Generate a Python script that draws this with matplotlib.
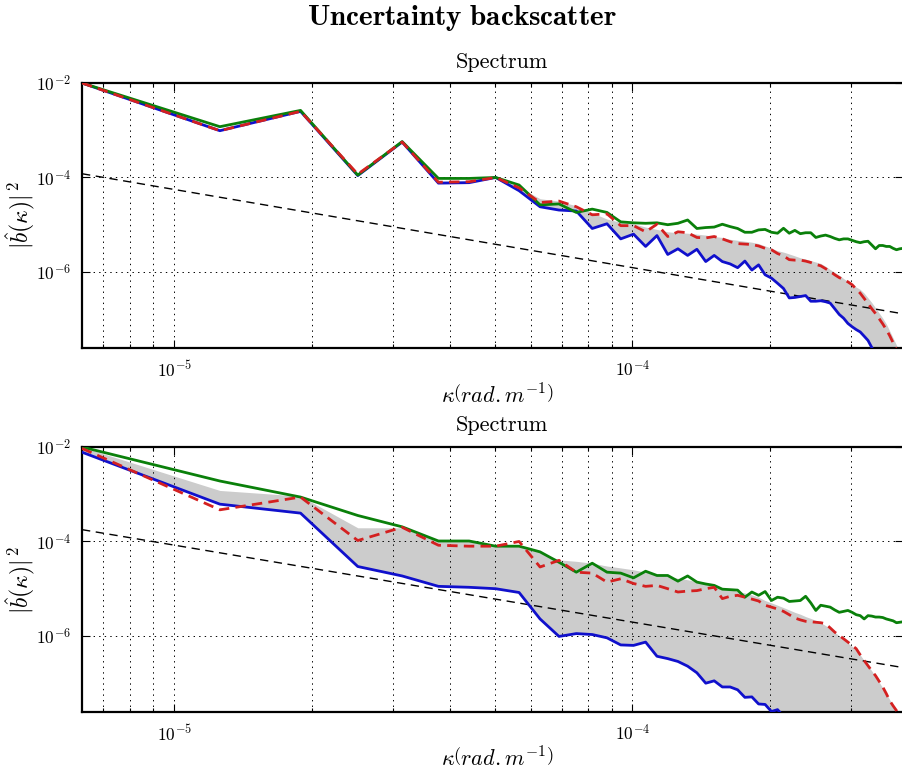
import numpy as np
import matplotlib
matplotlib.use("Agg")
import matplotlib.pyplot as plt
from matplotlib.ticker import LogLocator, FixedLocator, NullFormatter

plt.rcParams['mathtext.fontset'] = 'cm'
plt.rcParams['font.family'] = ['cmr10', 'DejaVu Serif']
plt.rcParams['axes.unicode_minus'] = False
plt.rcParams['lines.scale_dashes'] = False

# wavenumber grid (mode index n, fundamental 2*pi / 1000 km)
k0 = 2 * np.pi / 1.0e6
n_modes = np.arange(1, 63)
kappa = k0 * n_modes

# ---- top panel : log10 of |b(k)|^2 ----
top_blue = [-2.00, -3.01, -2.60, -3.96, -3.25, -4.12, -4.11, -4.00, -4.28, -4.62,
            -4.69, -4.71, -5.08, -4.98, -5.30, -5.20, -5.46, -5.23, -5.63, -5.51,
            -5.65, -5.52, -5.78, -5.65, -5.78, -5.83, -5.91, -5.77, -5.96, -5.85,
            -6.06, -6.13, -6.24, -6.35, -6.55, -6.54, -6.52, -6.50, -6.62, -6.62,
            -6.61, -6.63, -6.66, -6.78, -6.90, -6.98, -7.09, -7.16, -7.22, -7.27,
            -7.36, -7.45, -7.60, -7.75, -7.90, -8.05, -8.20, -8.35, -8.50, -8.65,
            -8.80, -8.95]
top_green = [-2.00, -2.925, -2.58, -3.95, -3.24, -4.02, -4.02, -4.00, -4.16, -4.58,
             -4.56, -4.74, -4.67, -4.74, -4.94, -4.96, -4.97, -4.96, -5.00, -4.97,
             -4.90, -5.08, -5.06, -5.05, -4.99, -5.04, -5.08, -5.16, -5.16, -5.11,
             -5.10, -5.16, -5.18, -5.075, -5.18, -5.12, -5.19, -5.17, -5.17, -5.27,
             -5.24, -5.22, -5.25, -5.29, -5.32, -5.30, -5.30, -5.33, -5.36, -5.38,
             -5.36, -5.35, -5.43, -5.51, -5.44, -5.44, -5.46, -5.46, -5.50, -5.53,
             -5.51, -5.50]
top_red = [-2.00, -3.01, -2.60, -3.93, -3.25, -4.10, -4.09, -4.00, -4.22, -4.53,
           -4.50, -4.62, -4.79, -4.77, -5.02, -5.02, -5.15, -4.99, -5.25, -5.15,
           -5.17, -5.27, -5.28, -5.25, -5.30, -5.36, -5.40, -5.41, -5.42, -5.45,
           -5.50, -5.53, -5.61, -5.66, -5.74, -5.75, -5.75, -5.77, -5.80, -5.84,
           -5.87, -5.93, -5.99, -6.06, -6.12, -6.16, -6.21, -6.27, -6.36, -6.45,
           -6.56, -6.67, -6.78, -6.88, -6.99, -7.10, -7.22, -7.35, -7.50, -7.65,
           -7.80, -7.95]
top_band_hi = [-2.00, -2.98, -2.58, -3.93, -3.24, -4.08, -4.07, -4.00, -4.20, -4.45,
               -4.50, -4.60, -4.75, -4.88, -4.95, -4.98, -5.05, -5.10, -5.15, -5.17,
               -5.18, -5.20, -5.22, -5.25, -5.27, -5.31, -5.33, -5.35, -5.37, -5.40,
               -5.45, -5.50, -5.55, -5.58, -5.62, -5.66, -5.70, -5.73, -5.76, -5.79,
               -5.82, -5.88, -5.95, -6.01, -6.07, -6.14, -6.20, -6.26, -6.32, -6.37,
               -6.45, -6.55, -6.65, -6.76, -6.87, -6.98, -7.10, -7.25, -7.40, -7.55,
               -7.70, -7.85]
top_ref = [1.2e-4, 1.3e-7]

# ---- bottom panel : log10 of |b(k)|^2 ----
bot_blue = [-2.11, -3.21, -3.40, -4.53, -4.73, -4.95, -4.97, -5.00, -5.08, -5.64,
            -6.01, -5.95, -5.97, -6.04, -6.19, -6.20, -6.13, -6.43, -6.48, -6.54,
            -6.64, -6.78, -7.00, -6.95, -7.08, -7.08, -7.14, -7.30, -7.29, -7.44,
            -7.45, -7.60, -7.56, -7.70, -7.80, -7.90, -8.00, -8.10, -8.20, -8.30,
            -8.40, -8.50, -8.60, -8.70, -8.80, -8.90, -9.00, -9.10, -9.20, -9.30,
            -9.40, -9.50, -9.60, -9.70, -9.80, -9.90, -10.0, -10.1, -10.2, -10.3,
            -10.4, -10.5]
bot_green = [-2.00, -2.72, -3.06, -3.45, -3.69, -3.99, -3.99, -4.10, -4.10, -4.22,
             -4.44, -4.65, -4.46, -4.65, -4.67, -4.77, -4.63, -4.72, -4.72, -4.84,
             -4.73, -4.86, -4.90, -4.93, -5.01, -5.02, -5.03, -5.18, -5.07, -5.14,
             -5.06, -5.25, -5.18, -5.20, -5.27, -5.26, -5.25, -5.16, -5.30, -5.46,
             -5.35, -5.37, -5.39, -5.45, -5.50, -5.48, -5.46, -5.50, -5.55, -5.57,
             -5.64, -5.57, -5.58, -5.60, -5.60, -5.61, -5.64, -5.66, -5.68, -5.72,
             -5.71, -5.70]
bot_red = [-2.03, -3.33, -3.06, -3.98, -3.70, -4.08, -4.10, -4.10, -4.00, -4.54,
           -4.40, -4.65, -4.67, -4.86, -4.79, -4.89, -4.95, -4.93, -5.00, -5.07,
           -5.05, -5.04, -5.00, -4.97, -5.21, -5.16, -5.14, -5.18, -5.22, -5.26,
           -5.35, -5.39, -5.43, -5.48, -5.55, -5.62, -5.66, -5.69, -5.70, -5.71,
           -5.72, -5.74, -5.83, -5.92, -5.99, -6.06, -6.13, -6.20, -6.27, -6.40,
           -6.52, -6.63, -6.74, -6.84, -6.96, -7.08, -7.22, -7.37, -7.48, -7.58,
           -7.75, -7.90]
bot_band_hi = [-2.00, -2.92, -3.04, -3.71, -3.71, -3.99, -3.99, -4.10, -4.08, -4.22,
               -4.39, -4.42, -4.46, -4.52, -4.56, -4.60, -4.65, -4.70, -4.74, -4.78,
               -4.81, -4.85, -4.90, -4.94, -4.98, -5.02, -5.06, -5.09, -5.13, -5.18,
               -5.25, -5.30, -5.35, -5.40, -5.45, -5.50, -5.54, -5.59, -5.63, -5.67,
               -5.72, -5.78, -5.85, -5.92, -6.00, -6.08, -6.15, -6.22, -6.30, -6.40,
               -6.52, -6.63, -6.74, -6.86, -6.98, -7.10, -7.22, -7.35, -7.48, -7.62,
               -7.80, -7.95]
bot_ref = [1.78e-4, 2.14e-7]

ylim = (10 ** -7.61, 1e-2)
blue_c, green_c, red_c = '#1010cc', '#0a800a', '#d42020'

fig = plt.figure(figsize=(9.03, 7.76), dpi=100)
W, H = 903.0, 776.0
ax1 = fig.add_axes([82 / W, 1 - 348 / H, 821 / W, 265 / H])
ax2 = fig.add_axes([82 / W, 1 - 712 / H, 821 / W, 265 / H])


def draw(ax, blue, green, red, band_hi, ref):
    b = 10.0 ** np.array(blue)
    g = 10.0 ** np.array(green)
    r = 10.0 ** np.array(red)
    hi = 10.0 ** np.array(band_hi)
    ax.fill_between(kappa, b, hi, color='#cccccc', lw=0, zorder=1)
    ax.plot([kappa[0], kappa[-1]], ref, color='k', lw=1.0, dashes=(6, 4), zorder=2)
    ax.plot(kappa, b, color=blue_c, lw=2.0, zorder=3)
    ax.plot(kappa, g, color=green_c, lw=2.0, zorder=4)
    ax.plot(kappa, r, color=red_c, lw=2.0, dashes=(7.5, 4.5), zorder=5)
    ax.set_xscale('log')
    ax.set_yscale('log')
    ax.set_xlim(kappa[0], kappa[-1])
    ax.set_ylim(*ylim)
    ax.yaxis.set_major_locator(FixedLocator([1e-6, 1e-4, 1e-2]))
    ax.yaxis.set_minor_locator(FixedLocator([]))
    ax.xaxis.set_major_locator(LogLocator(base=10))
    ax.xaxis.set_minor_locator(LogLocator(base=10, subs=np.arange(2, 10)))
    ax.xaxis.set_minor_formatter(NullFormatter())
    ax.grid(True, which='major', axis='both', color='k', ls=(0, (1, 3)), lw=0.7)
    ax.grid(True, which='minor', axis='x', color='k', ls=(0, (1, 3)), lw=0.7)
    ax.tick_params(which='both', direction='in', top=True, right=True, width=0.8)
    ax.tick_params(which='major', length=6, labelsize=12.5, pad=8)
    ax.tick_params(which='minor', length=3)
    for s in ax.spines.values():
        s.set_linewidth(1.6)
    ax.spines['right'].set_visible(False)


draw(ax1, top_blue, top_green, top_red, top_band_hi, top_ref)
draw(ax2, bot_blue, bot_green, bot_red, bot_band_hi, bot_ref)

fig.text(462 / W, 1 - 18 / H, r'$\mathbf{Uncertainty\ backscatter}$',
         ha='center', va='center', fontsize=21)
for yc in (62, 425):
    fig.text(502 / W, 1 - yc / H, 'Spectrum', ha='center', va='center', fontsize=16)
for yc in (215, 580):
    fig.text(20 / W, 1 - yc / H, r'$|\hat{b}(\kappa)|^{\,2}$', ha='center', va='center',
             rotation=90, fontsize=17)
for yc in (395, 758):
    fig.text(497 / W, 1 - yc / H, r'$\kappa\left(rad.m^{-1}\right)$',
             ha='center', va='center', fontsize=16)

fig.savefig('out.png', dpi=100)
